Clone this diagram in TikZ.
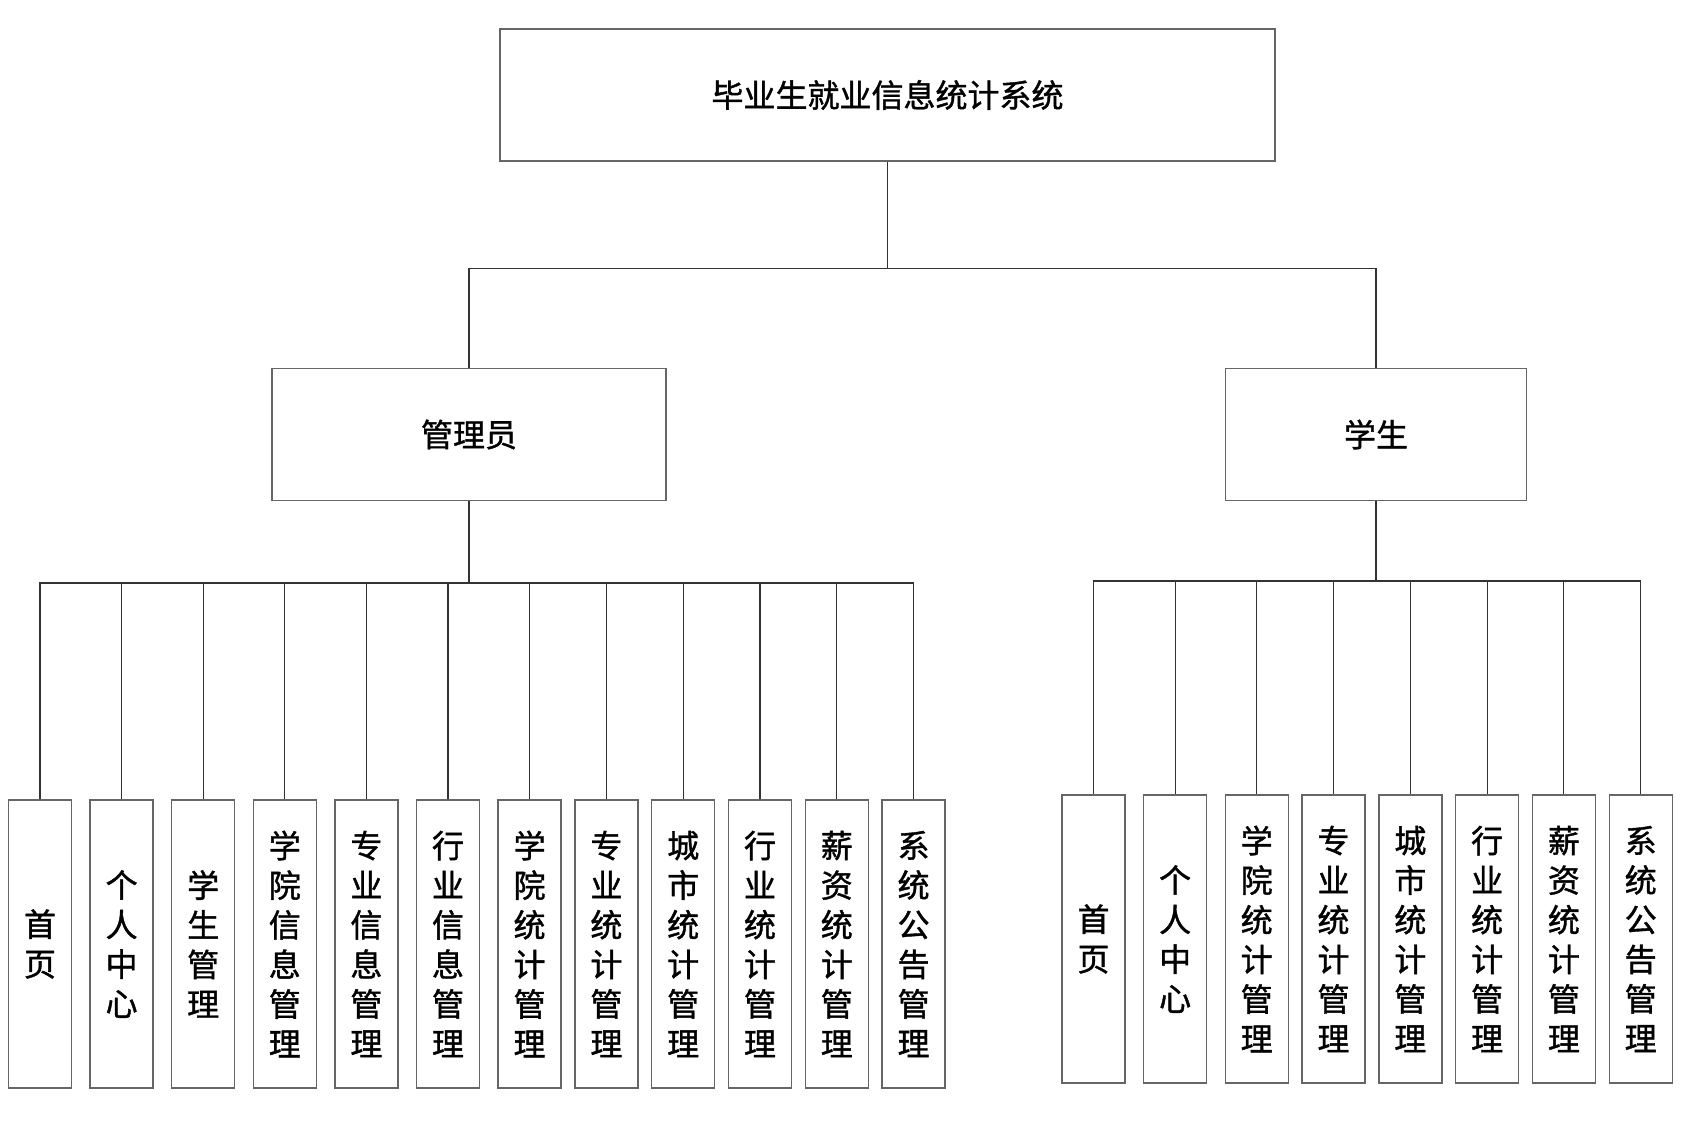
\documentclass[tikz,border=0pt]{standalone}
\usepackage{fontspec}
\setmainfont{Noto Sans CJK SC}[AutoFakeBold=1.2]
\usetikzlibrary{positioning}
\tikzset{
  sysbox/.style ={draw=black!60, line width=0.7pt, fill=white,
                  minimum width=387.5pt, minimum height=66pt,
                  font=\fontsize{16}{20}\selectfont\bfseries},
  rolebox/.style={draw=black!60, line width=0.7pt, fill=white,
                  minimum width=#1, minimum height=66pt,
                  font=\fontsize{16}{20}\selectfont\bfseries},
  rolebox/.default=197pt,
  leafbox/.style={draw=black!60, line width=0.7pt, fill=white,
                  minimum width=31.5pt, minimum height=144pt,
                  inner sep=0pt, align=center,
                  font=\fontsize{16}{19.8}\selectfont\bfseries},
  link/.style   ={draw=black!80, line width=0.55pt},
}
\begin{document}
\begin{tikzpicture}[x=0.5pt,y=-0.5pt]
  \useasboundingbox (0,0) rectangle (1684,1124);
  \node[sysbox] (sys) at (887.5,95) {毕业生就业信息统计系统};
  \node[rolebox] (admin) at (469,434.5) {管理员};
  \node[rolebox=150.5pt] (stu) at (1376,434.5) {学生};
  \coordinate (topbus) at (0,268.5);
  \coordinate (abus) at (0,583);
  \coordinate (sbus) at (0,581);
  %% admin leaves
  \node[leafbox] (a1) at (40,944) {首\\页};
  \node[leafbox, right=8.6pt of a1] (a2) {个\\人\\中\\心};
  \node[leafbox, right=8.6pt of a2] (a3) {学\\生\\管\\理};
  \node[leafbox, right=8.6pt of a3] (a4) {学\\院\\信\\息\\管\\理};
  \node[leafbox, right=8.6pt of a4] (a5) {专\\业\\信\\息\\管\\理};
  \node[leafbox, right=8.6pt of a5] (a6) {行\\业\\信\\息\\管\\理};
  \node[leafbox, right=8.6pt of a6] (a7) {学\\院\\统\\计\\管\\理};
  \node[leafbox, right=6.2pt of a7] (a8) {专\\业\\统\\计\\管\\理};
  \node[leafbox, right=6.2pt of a8] (a9) {城\\市\\统\\计\\管\\理};
  \node[leafbox, right=6.2pt of a9] (a10) {行\\业\\统\\计\\管\\理};
  \node[leafbox, right=6.2pt of a10] (a11) {薪\\资\\统\\计\\管\\理};
  \node[leafbox, right=6.2pt of a11] (a12) {系\\统\\公\\告\\管\\理};
  %% student leaves
  \node[leafbox] (s1) at (1093.5,939) {首\\页};
  \node[leafbox, right=8.6pt of s1] (s2) {个\\人\\中\\心};
  \node[leafbox, right=8.6pt of s2] (s3) {学\\院\\统\\计\\管\\理};
  \node[leafbox, right=6.2pt of s3] (s4) {专\\业\\统\\计\\管\\理};
  \node[leafbox, right=6.2pt of s4] (s5) {城\\市\\统\\计\\管\\理};
  \node[leafbox, right=6.2pt of s5] (s6) {行\\业\\统\\计\\管\\理};
  \node[leafbox, right=6.2pt of s6] (s7) {薪\\资\\统\\计\\管\\理};
  \node[leafbox, right=6.2pt of s7] (s8) {系\\统\\公\\告\\管\\理};
  %% connectors
  \draw[link] (sys.south) -- (sys.south |- topbus) -| (admin.north);
  \draw[link] (sys.south |- topbus) -| (stu.north);
  \foreach \i in {1,...,12}
    \draw[link] (admin.south) -- (admin.south |- abus) -| (a\i.north);
  \foreach \i in {1,...,8}
    \draw[link] (stu.south) -- (stu.south |- sbus) -| (s\i.north);
\end{tikzpicture}
\end{document}
